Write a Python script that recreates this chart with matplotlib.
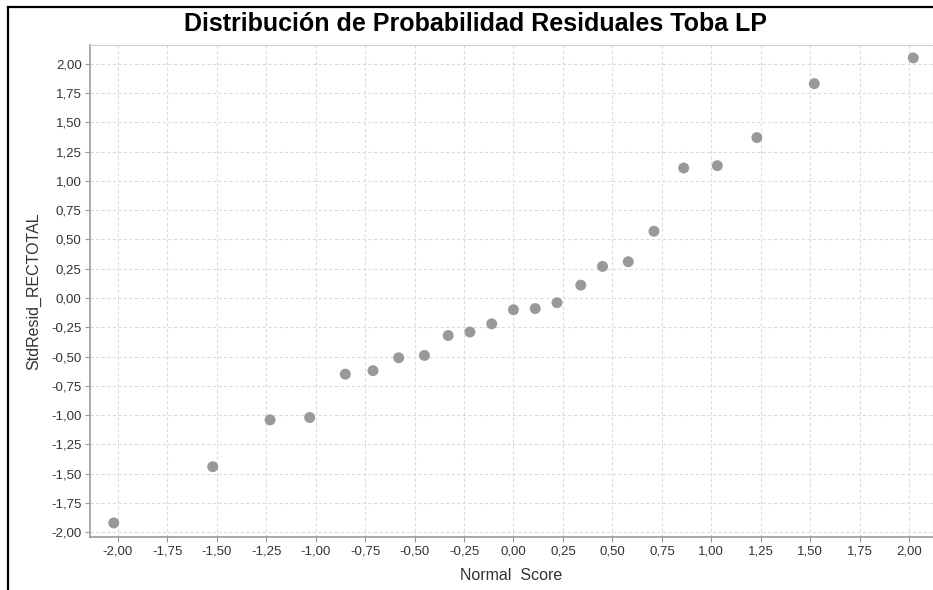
import matplotlib
matplotlib.use('Agg')
import matplotlib.pyplot as plt
import numpy as np
from matplotlib.lines import Line2D
from matplotlib.ticker import FuncFormatter, MultipleLocator

# values
normal_score = [-2.02, -1.52, -1.23, -1.03, -0.85, -0.71, -0.58, -0.45, -0.33, -0.22,
                -0.11, 0.00, 0.11, 0.22, 0.34, 0.45, 0.58, 0.71, 0.86, 1.03,
                1.23, 1.52, 2.02]
std_resid = [-1.92, -1.44, -1.04, -1.02, -0.65, -0.62, -0.51, -0.49, -0.32, -0.29,
             -0.22, -0.10, -0.09, -0.04, 0.11, 0.27, 0.31, 0.57, 1.11, 1.13,
             1.37, 1.83, 2.05]

plt.rcParams['font.family'] = ['Liberation Sans', 'DejaVu Sans']

fig = plt.figure(figsize=(9.33, 5.90), dpi=100)
ax = fig.add_axes([90 / 933, 53 / 590, 843 / 933, 492 / 590])

ax.scatter(normal_score, std_resid, s=62, color='#999999', edgecolors='none', zorder=3)

ax.set_xlim(-2.14, 2.12)
ax.set_ylim(-2.04, 2.16)
ax.xaxis.set_major_locator(MultipleLocator(0.25))
ax.yaxis.set_major_locator(MultipleLocator(0.25))
comma = FuncFormatter(lambda v, p: f'{v:.2f}'.replace('.', ','))
ax.xaxis.set_major_formatter(comma)
ax.yaxis.set_major_formatter(comma)

ax.grid(True, color='#dddddd', linestyle=(0, (3, 2)), linewidth=0.8, zorder=0)
ax.tick_params(axis='both', length=3.5, width=0.8, color='#999999',
               labelsize=9.5, labelcolor='#333333', pad=2.5)

for side in ('top', 'right'):
    ax.spines[side].set_color('#cccccc')
    ax.spines[side].set_linewidth(0.8)
for side in ('left', 'bottom'):
    ax.spines[side].set_color('#999999')
    ax.spines[side].set_linewidth(1.2)

ax.set_xlabel('Normal  Score', fontsize=11.5, color='#333333', labelpad=8)
ax.set_ylabel('StdResid_RECTOTAL', fontsize=11.5, color='#333333', labelpad=7)

fig.text(475 / 933, 1 - 31 / 590, 'Distribución de Probabilidad Residuales Toba LP',
         ha='center', va='baseline', fontsize=18, fontweight='bold', color='black')

# partial black frame (top and left) as in the reference
fig.add_artist(Line2D([8 / 933, 8 / 933], [0, 1 - 7 / 590], transform=fig.transFigure,
                      color='black', linewidth=1.6))
fig.add_artist(Line2D([8 / 933, 1], [1 - 7 / 590, 1 - 7 / 590], transform=fig.transFigure,
                      color='black', linewidth=1.6))

fig.savefig('out.png', dpi=100)
